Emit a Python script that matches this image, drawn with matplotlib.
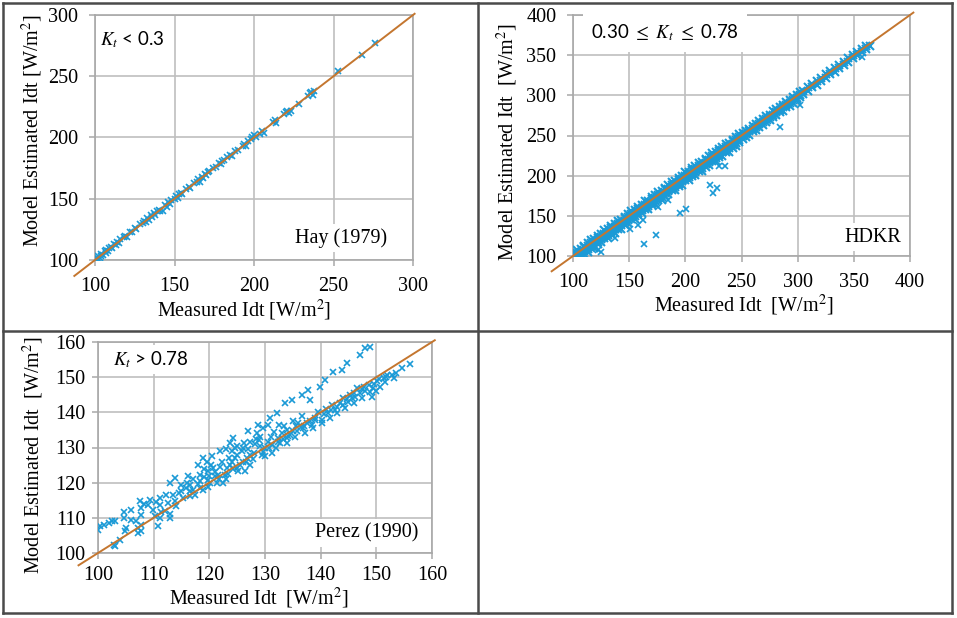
import matplotlib
matplotlib.use('Agg')
import matplotlib.pyplot as plt
from matplotlib.lines import Line2D

plt.rcParams['font.family'] = ['Liberation Serif', 'DejaVu Serif']
plt.rcParams['mathtext.fontset'] = 'stix'

BLUE = '#1b9ad6'
ORANGE = '#c4762f'
GRID = '#bfbfbf'

# ---------------- data ----------------
hay_pts = [(101,102),(102,101),(102,103.5),(103,102),(104,105),(104,103),(105,104),(106,107),
           (107,106),(107,108.5),(108,107),(109,110),(110,111),(111,110),(112,113),(113,112),
           (114,115),(115,114),(116,117),(118,118.5),(119,120),(120,119),(122,123),(123,122.5),
           (125,126),(126,125),(128,129),(130,130),(131,132),(132,131),(133,134),(134,133),
           (135,136.5),(136,135),(137,138),(138,137),(139,140),(140,141),(141,140),(143,140),
           (144,145),(145,143),(146,147),(147,146),(148,149),(150,150),(151,152),(152,151),
           (153,154),(154,155),(155,154),(157,158),(159,160),(160,159),(162,163),(164,164),
           (165,166),(166,164),(167,168),(168,167),(169,170),(170,169),(171,172),(172,173),
           (174,175),(176,176),(178,179),(179,178),(180,181),(181,182),(183,184),(185,186),
           (186,185),(188,189),(190,190),(193,193),(194,195),(195,193),(196,197),(198,199),
           (199,200),(200,202),(201,200),(204,203),(205,205),(206,204),(212,213),(213,214),
           (214,212),(219,219),(220,221),(221,222),(222,220),(223,222),(228,227),(234,234),
           (235,236),(236,237),(237,235),(238,238),(253,254),(268,267),(276,277)]
hay_line = [87, 301]

hdkr_band = [(101,93),(101,97),(101,100),(101,104),(104,98),(104,101),(104,104),(104,108),
             (107,98),(107,102),(107,105),(107,109),(110,103),(110,106),(110,111),(110,113),
             (113,105),(113,109),(113,112),(113,116),(116,110),(116,113),(116,116),(116,120),
             (119,110),(119,114),(119,117),(119,121),(122,115),(122,118),(122,123),(122,125),
             (125,117),(125,121),(125,124),(125,128),(128,122),(128,125),(128,128),(128,132),
             (131,122),(131,126),(131,129),(131,133),(134,127),(134,130),(134,135),(134,137),
             (137,129),(137,133),(137,136),(137,140),(140,134),(140,137),(140,140),(140,144),
             (143,134),(143,138),(143,141),(143,145),(146,139),(146,142),(146,147),(146,149),
             (149,141),(149,145),(149,148),(149,152),(152,146),(152,149),(152,152),(152,156),
             (155,146),(155,150),(155,153),(155,157),(158,151),(158,154),(158,159),(158,161),
             (161,153),(161,157),(161,160),(161,164),(164,158),(164,161),(164,164),(164,168),
             (167,158),(167,162),(167,165),(167,169),(170,163),(170,166),(170,171),(170,173),
             (173,165),(173,169),(173,172),(173,176),(176,170),(176,173),(176,176),(176,180),
             (179,170),(179,174),(179,177),(179,181),(182,175),(182,178),(182,183),(182,185),
             (185,177),(185,181),(185,184),(185,188),(188,182),(188,185),(188,188),(188,192),
             (191,182),(191,186),(191,189),(191,193),(194,187),(194,190),(194,195),(194,197),
             (197,189),(197,193),(197,196),(197,200),(200,194),(200,197),(200,200),(200,204),
             (203,194),(203,198),(203,201),(203,205),(206,199),(206,202),(206,207),(206,209),
             (209,201),(209,205),(209,208),(209,212),(212,206),(212,209),(212,212),(212,216),
             (215,206),(215,210),(215,213),(215,217),(218,211),(218,214),(218,219),(218,221),
             (221,213),(221,217),(221,220),(221,224),(224,218),(224,221),(224,224),(224,228),
             (227,218),(227,222),(227,225),(227,229),(230,223),(230,226),(230,231),(230,233),
             (233,225),(233,229),(233,232),(233,236),(236,230),(236,233),(236,236),(236,240),
             (239,230),(239,234),(239,237),(239,241),(242,235),(242,238),(242,243),(242,245),
             (245,237),(245,241),(245,244),(245,248),(248,242),(248,245),(248,248),(248,252),
             (251,246),(251,249),(251,253),(254,248),(254,252),(254,256),(257,251),(257,255),
             (257,258),(260,255),(260,258),(260,262),(263,257),(263,261),(263,264),(266,261),
             (266,264),(266,268),(269,263),(269,267),(269,270),(272,267),(272,270),(272,274),
             (275,269),(275,273),(275,276),(278,273),(278,276),(278,280),(281,276),(281,279),
             (281,283),(284,279),(284,282),(284,286),(287,281),(287,285),(287,288),(290,285),
             (290,288),(290,292),(293,287),(293,291),(293,294),(296,291),(296,294),(296,298),
             (299,294),(299,297),(299,301),(302,298),(302,300),(302,304),(305,302),(305,306),
             (309,305),(309,310),(313,310),(313,314),(317,313),(317,318),(321,318),(321,322),
             (325,321),(325,326),(329,326),(329,330),(333,329),(333,334),(337,334),(337,338),
             (341,338),(341,342),(345,341),(345,346),(349,346),(349,350),(353,350),(353,354),
             (357,354),(357,358),(361,358),(361,362),(364,362)]
hdkr_outliers = [(125,105),(122,107),(163,115),(174,126),(162,145),(195,153),(201,159),
                 (176,161),(185,170),(151,134),(158,139),(137,123),(222,188),(225,178),
                 (228,185),(230,212),(235,212),(284,260),(302,288),(357,348),(274,268)]
hdkr_line = [81, 403]

perez_pts = [(100,106.6),(100.4,107.6),(101,108.1),(101.9,108.5),(102.5,109.2),(103.1,109.2),
             (102.8,102.4),(103,101.9),(104,103.8),(104.6,109.9),(104.7,111.8),(104.9,106.2),
             (105.1,107.1),(106,112.3),(106,109.5),(106.9,109),(107.2,107.1),(107.2,105.7),
             (107.5,114.7),(107.8,112.8),(107.8,110.9),(107.8,108),(107.8,106.2),(109,113.7),
             (109.3,115.2),(109.9,112.3),(110.2,110.4),(110.8,107.6),(111.1,115.6),(111.1,113.7),
             (111.4,111.8),(111.1,109.9),(112.3,116.6),(112.6,114.2),(112.9,109.9),(112.9,119.9),
             (113.5,116.6),(113.8,114.7),(114.1,113.3),(113.8,121.3),(115,119.4),(115,117.5),
             (115.3,115.6),(116.2,121.8),(116.5,119.4),(116.5,117.5),(116.5,116.1),(118,125.1),
             (118.3,122.3),(118.3,120.4),(118.3,118.5),(118.9,127),(119.5,126),(119.8,123.2),
             (119.8,120.8),(119.8,118.9),(120.7,124.1),(121,121.8),(121.3,119.9),(121.6,122.3),
             (121.9,128.9),(122.2,126),(122.5,119.9),(122.8,122.3),(123.1,124.1),(123.7,131.3),
             (123.7,125.1),(124.3,132.7),(124.6,129.8),(124.6,127),(124.9,124.1),(125.2,123.2),
             (125.8,128.9),(126.1,126),(126.4,123.2),(127,134.6),(127.3,131.7),(127.3,127.9),
             (127.3,125.1),(128.8,136.5),(129.1,133.1),(129.1,130.3),(129.4,127.9),(129.7,135.5),
             (130,129.8),(130,127.5),(130.9,138.4),(131.2,130.8),(131.2,128.4),(132.1,139.8),
             (132.4,132.7),(132.7,131.3),(133.6,142.6),(133.9,132.7),(133.9,131.3),(134.8,143.6),
             (135.1,134.6),(135.4,133.1),(136.6,145),(136.9,135.5),(137.2,134.1),(137.8,146.4),
             (138.1,143.6),(138.4,136.5),(138.7,135.5),(139.9,147.1),(140.2,137.9),(140.2,136.9),
             (140.8,149.2),(141.4,139.8),(141.7,138.4),(142.3,151.6),(142.6,140.7),(142.9,139.8),
             (143.8,152.1),(144.1,142.1),(144.4,141.2),(144.7,154),(145.6,144),(145.9,142.6),
             (147.1,156.3),(147.1,145.5),(147.4,144),(148,158.2),(148.9,158.7),(148.6,147.8),
             (148.9,145.9),(149.2,144.5),(150.1,148.8),(150.7,147.3),(151.3,149.7),(152.8,150.7),
             (153.1,149.7),(154.6,152.6),(156.1,153.7),
             (108.2,114),(110.5,114.5),(112,112),(113,111),(114.5,117),(115.8,118.5),(116,120),
             (117,118),(117,121),(118,119.5),(119,121.5),(119,124),(120,122),(120.3,125),(121,123),
             (122,124.5),(123,121),(123.5,127),(124,126),(125,128),(125.5,125),(126,130),
             (126.8,127),(127,129.5),(128,128.5),(128.2,131),(129,132),(130.5,131.5),(131,133),
             (132,130),(133,134),(134,135),(134.5,133.5),(135.5,136),(136,137),(137,136),
             (138,137.5),(139,138.5),(139.5,140),(141,141),(142,142),(143,141.5),(144,144),
             (145,143),(146,145.5),(146.5,147),(147.5,146.5),(148,146),(149.5,148),(150,146),
             (151.5,148.5),(152,150.5),(132.5,136.5),(128.5,134),(130.5,136.5),(125,130.5),
             (123,129.5),(120.5,127.5),
             (117.5,116.5),(118.8,117.8),(120.2,119.8),(121.8,121),(123.4,122.6),(124.2,123.8),
             (126.5,125.8),(127.8,126.6),(129.6,128.8),(130.8,129.9),(132.3,131.6),(133.2,132.3),
             (134.2,133.2),(135.8,134.8),(136.4,135.8),(137.6,137),(138.9,137.8),(140.6,139.4),
             (141.9,140.8),(143.4,142.6),(144.8,143.7),(145.3,145),(146.2,144.4),(147.8,147.3),
             (149.4,146.8),(150.4,149.6),(151.8,150),(153.6,151.2),(131.7,134.5),(133.4,136),
             (135,137.6),(136.7,138.9),(128.3,132.4),(126.3,131.2),(124,129)]
perez_line = [96.5, 160.5]

hay_ticks = [100, 150, 200, 250, 300]
hdkr_ticks = [100, 150, 200, 250, 300, 350, 400]
perez_ticks = [100, 110, 120, 130, 140, 150, 160]

# ---------------- figure ----------------
W, H = 957, 618
fig = plt.figure(figsize=(W / 100, H / 100), dpi=100)


def px_axes(l, r, t, b):
    return fig.add_axes([l / W, 1 - b / H, (r - l) / W, (b - t) / H])


def style(ax, ticks):
    ax.set_xlim(ticks[0], ticks[-1])
    ax.set_ylim(ticks[0], ticks[-1])
    ax.set_xticks(ticks)
    ax.set_yticks(ticks)
    ax.grid(True, color=GRID, lw=1.2)
    ax.set_axisbelow(True)
    for s in ax.spines.values():
        s.set_color('#a8a8a8')
        s.set_linewidth(1.2)
    ax.tick_params(length=4, width=1.1, color='#a8a8a8', labelsize=14.5, pad=8)


def scatter(ax, pts, ms=4.2, mew=1.2):
    xs = [p[0] for p in pts]
    ys = [p[1] for p in pts]
    ax.plot(xs, ys, 'x', ms=ms, mew=mew, color=BLUE, zorder=3)


box = dict(facecolor='white', edgecolor='none', pad=3)
ann_font = ['Lato', 'DejaVu Sans']

# Panel 1: Hay
ax1 = px_axes(95, 413, 15, 260)
style(ax1, hay_ticks)
scatter(ax1, hay_pts, ms=4.0)
ax1.plot(hay_line, hay_line, color=ORANGE, lw=1.4, zorder=4, clip_on=False)
ax1.set_xlabel('Measured Idt [W/m$^2$]', fontsize=14.5)
ax1.set_ylabel('Model Estimated Idt [W/m$^2$]', fontsize=14.5)
ax1.xaxis.set_label_coords(0.47, -0.206)
ax1.yaxis.set_label_coords(-0.198, 0.527)
ax1.xaxis.label.set_va('center')
ax1.yaxis.label.set_va('center')
ax1.text(103, 279.6, r'$K_t$ < 0.3', fontsize=13.5, family=ann_font, va='center',
         ha='left', bbox=box, zorder=5)
ax1.text(283.6, 118, 'Hay (1979)', fontsize=14.5, va='center', ha='right', bbox=box, zorder=5)

# Panel 2: HDKR
ax2 = px_axes(573, 910, 15, 256)
style(ax2, hdkr_ticks)
scatter(ax2, hdkr_band, ms=5.8, mew=1.5)
scatter(ax2, hdkr_outliers, ms=4.0)
ax2.plot(hdkr_line, hdkr_line, color=ORANGE, lw=1.4, zorder=4, clip_on=False)
ax2.set_xlabel('Measured Idt  [W/m$^2$]', fontsize=14.5)
ax2.set_ylabel('Model Estimated Idt  [W/m$^2$]', fontsize=14.5)
ax2.xaxis.set_label_coords(0.507, -0.205)
ax2.yaxis.set_label_coords(-0.195, 0.473)
ax2.xaxis.label.set_va('center')
ax2.yaxis.label.set_va('center')
ax2.text(116, 377.6, r'0.30 $\leq$ $K_t$ $\leq$ 0.78', fontsize=13.5, family=ann_font,
         va='center', ha='left', bbox=dict(facecolor='white', edgecolor='none', pad=6), zorder=5)
ax2.text(392, 123.6, 'HDKR', fontsize=14.5, va='center', ha='right', bbox=box, zorder=5)

# Panel 3: Perez
ax3 = px_axes(98, 432, 342, 553)
style(ax3, perez_ticks)
ax3.tick_params(pad=5)
scatter(ax3, perez_pts, ms=4.0)
ax3.plot(perez_line, perez_line, color=ORANGE, lw=1.4, zorder=4, clip_on=False)
ax3.set_xlabel('Measured Idt  [W/m$^2$]', fontsize=14.5)
ax3.set_ylabel('Model Estimated Idt  [W/m$^2$]', fontsize=14.5)
ax3.xaxis.set_label_coords(0.48, -0.215)
ax3.yaxis.set_label_coords(-0.194, 0.464)
ax3.xaxis.label.set_va('center')
ax3.yaxis.label.set_va('center')
ax3.text(102.7, 154.9, r'$K_t$ > 0.78', fontsize=13.5, family=ann_font, va='center',
         ha='left', bbox=box, zorder=5)
ax3.text(157.5, 105.7, 'Perez (1990)', fontsize=14.5, va='center', ha='right', bbox=box, zorder=5)

# Table-like frame
def fline(x0, y0, x1, y1):
    fig.add_artist(Line2D([x0 / W, x1 / W], [1 - y0 / H, 1 - y1 / H], color='#4a4a4a',
                          lw=1.8, transform=fig.transFigure))

fline(3, 3, 952, 3)
fline(3, 613, 952, 613)
fline(3, 3, 3, 613)
fline(952, 3, 952, 613)
fline(478, 3, 478, 613)
fline(3, 331, 952, 331)

fig.savefig('out.png', dpi=100)
